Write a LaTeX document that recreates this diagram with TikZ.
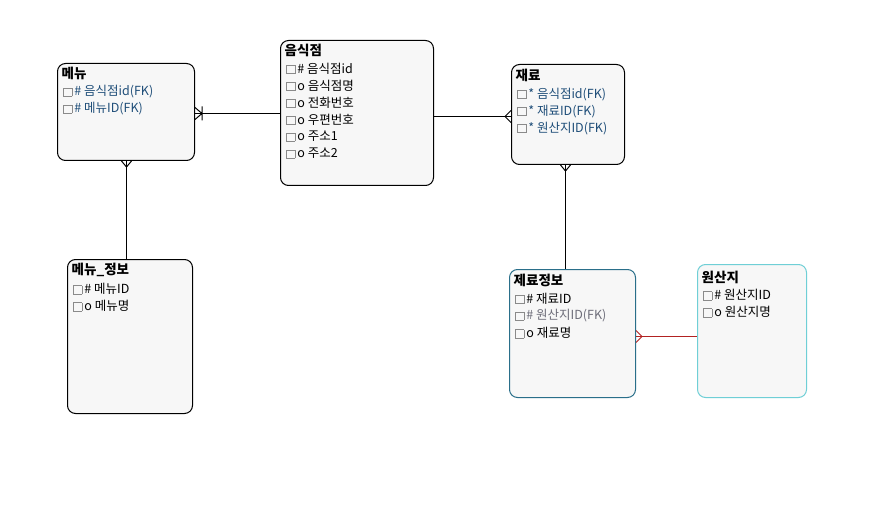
\documentclass[tikz,border=0pt]{standalone}
\usepackage{fontspec}
\setmainfont{Noto Sans CJK KR}
\usetikzlibrary{calc}
\definecolor{boxfill}{HTML}{F7F7F7}
\definecolor{fkblue}{HTML}{1F4E79}
\definecolor{tealdark}{HTML}{2A6F8A}
\definecolor{teallight}{HTML}{6FCFD6}
\definecolor{relred}{HTML}{B22222}
\definecolor{grayattr}{HTML}{6E6E7A}
\definecolor{chk}{HTML}{8A8A8A}
\newcommand{\chkbox}{\textcolor{chk}{\fboxsep=0pt\fboxrule=0.7pt\fbox{\rule{0pt}{7.6pt}\rule{7.6pt}{0pt}}}\kern2.2pt}
\tikzset{
  ent/.style={draw, line width=1pt, rounded corners=8pt, fill=boxfill, anchor=north west, inner sep=0pt},
  ttl/.style={anchor=west, font=\fontsize{13.5}{14}\selectfont\bfseries, inner sep=0pt},
  attr/.style={anchor=west, font=\fontsize{12.5}{13}\selectfont, inner sep=0pt},
  rel/.style={line width=1pt},
}
\begin{document}
\begin{tikzpicture}[x=1pt,y=-1pt]
\useasboundingbox[fill=white] (0,0) rectangle (896,505);

% entities
\node[ent, minimum width=137pt, minimum height=97pt] (menu) at (57,63) {};
\node[ent, minimum width=153pt, minimum height=145pt] (eum) at (280,40) {};
\node[ent, minimum width=113pt, minimum height=100pt] (jae) at (511,64) {};
\node[ent, minimum width=125pt, minimum height=154pt] (minfo) at (67,259) {};
\node[ent, draw=tealdark, minimum width=126pt, minimum height=128pt] (jinfo) at (509,269) {};
\node[ent, draw=teallight, minimum width=109pt, minimum height=133pt] (won) at (697,264) {};

% 메뉴
\node[ttl] (menu-t) at ($(menu.north west)+(4.5,10.5)$) {메뉴};
\node[attr, text=fkblue] (menu-a1) at ($(menu.north west)+(6,29)$) {\chkbox\# 음식점id(FK)};
\node[attr, text=fkblue] (menu-a2) at ($(menu.north west)+(6,46)$) {\chkbox\# 메뉴ID(FK)};

% 음식점
\node[ttl] (eum-t) at ($(eum.north west)+(4.5,10.5)$) {음식점};
\node[attr] (eum-a1) at ($(eum.north west)+(6,28.5)$) {\chkbox\# 음식점id};
\node[attr] (eum-a2) at ($(eum.north west)+(6,45.5)$) {\chkbox o 음식점명};
\node[attr] (eum-a3) at ($(eum.north west)+(6,62.5)$) {\chkbox o 전화번호};
\node[attr] (eum-a4) at ($(eum.north west)+(6,79.5)$) {\chkbox o 우편번호};
\node[attr] (eum-a5) at ($(eum.north west)+(6,96.5)$) {\chkbox o 주소1};
\node[attr] (eum-a6) at ($(eum.north west)+(6,113.5)$) {\chkbox o 주소2};

% 재료
\node[ttl] (jae-t) at ($(jae.north west)+(4.5,11)$) {재료};
\node[attr, text=fkblue] (jae-a1) at ($(jae.north west)+(6,30.5)$) {\chkbox* 음식점id(FK)};
\node[attr, text=fkblue] (jae-a2) at ($(jae.north west)+(6,47.5)$) {\chkbox* 재료ID(FK)};
\node[attr, text=fkblue] (jae-a3) at ($(jae.north west)+(6,64.5)$) {\chkbox* 원산지ID(FK)};

% 메뉴_정보
\node[ttl] (minfo-t) at ($(minfo.north west)+(4.5,11)$) {메뉴\_정보};
\node[attr] (minfo-a1) at ($(minfo.north west)+(6,30)$) {\chkbox\# 메뉴ID};
\node[attr] (minfo-a2) at ($(minfo.north west)+(6,47)$) {\chkbox o 메뉴명};

% 제료정보
\node[ttl] (jinfo-t) at ($(jinfo.north west)+(4.5,11)$) {제료정보};
\node[attr] (jinfo-a1) at ($(jinfo.north west)+(6,29.5)$) {\chkbox\# 재료ID};
\node[attr, text=grayattr] (jinfo-a2) at ($(jinfo.north west)+(6,47)$) {\chkbox\# 원산지ID(FK)};
\node[attr] (jinfo-a3) at ($(jinfo.north west)+(6,64)$) {\chkbox o 재료명};

% 원산지
\node[ttl] (won-t) at ($(won.north west)+(4.5,13)$) {원산지};
\node[attr] (won-a1) at ($(won.north west)+(6,31)$) {\chkbox\# 원산지ID};
\node[attr] (won-a2) at ($(won.north west)+(6,48)$) {\chkbox o 원산지명};

% relationships
% 메뉴 -- 음식점 (one-or-many at 메뉴)
\coordinate (r1a) at ($(menu.east)+(0,1.5)$);
\coordinate (r1b) at (eum.west |- r1a);
\draw[rel] (r1a) -- (r1b);
\draw[rel] ($(r1a)+(7,0)$) -- ($(r1a)+(0,-6)$) ($(r1a)+(7,0)$) -- ($(r1a)+(0,6)$)
           ($(r1a)+(7,-7)$) -- ($(r1a)+(7,7)$);

% 음식점 -- 재료 (many at 재료)
\coordinate (r2b) at ($(jae.west)+(0,2)$);
\coordinate (r2a) at (eum.east |- r2b);
\draw[rel] (r2a) -- (r2b);
\draw[rel] ($(r2b)+(-6,0)$) -- ($(r2b)+(0,-6)$) ($(r2b)+(-6,0)$) -- ($(r2b)+(0,6)$);

% 메뉴 -- 메뉴_정보 (many at 메뉴)
\coordinate (r3a) at ($(menu.south)+(0.5,0)$);
\coordinate (r3b) at (minfo.north -| r3a);
\draw[rel] (r3a) -- (r3b);
\draw[rel] ($(r3a)+(0,6)$) -- ($(r3a)+(-5,0)$) ($(r3a)+(0,6)$) -- ($(r3a)+(5,0)$);

% 재료 -- 제료정보 (many at 재료)
\coordinate (r4a) at ($(jae.south)+(-2.5,0)$);
\coordinate (r4b) at (jinfo.north -| r4a);
\draw[rel] (r4a) -- (r4b);
\draw[rel] ($(r4a)+(0,6)$) -- ($(r4a)+(-5,0)$) ($(r4a)+(0,6)$) -- ($(r4a)+(5,0)$);

% 제료정보 -- 원산지 (many at 제료정보), red
\coordinate (r5a) at ($(jinfo.east)+(0,3)$);
\coordinate (r5b) at (won.west |- r5a);
\draw[rel, relred] (r5a) -- (r5b);
\draw[rel, relred] ($(r5a)+(6,0)$) -- ($(r5a)+(0,-6)$) ($(r5a)+(6,0)$) -- ($(r5a)+(0,6)$);
\end{tikzpicture}
\end{document}
